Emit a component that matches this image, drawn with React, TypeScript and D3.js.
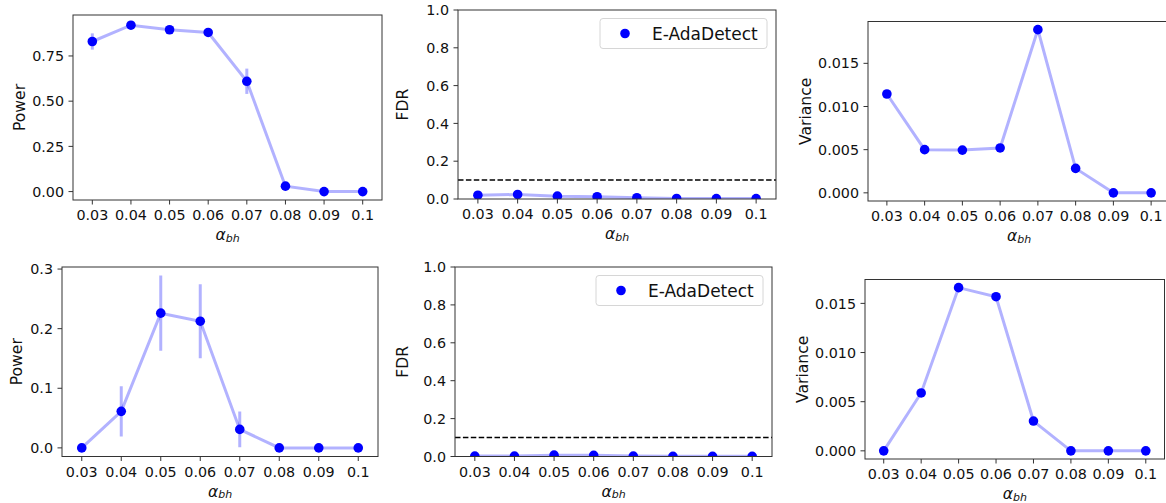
import React from "react";
import * as d3 from "d3";

// alpha_bh levels, shared by all six panels
const alphas = ["0.03", "0.04", "0.05", "0.06", "0.07", "0.08", "0.09", "0.1"];

// top row
const power1 = [0.83, 0.92, 0.895, 0.88, 0.61, 0.03, 0.0, 0.0];
const powerErr1 = [0.045, 0.01, 0.01, 0.01, 0.07, 0.01, 0.0, 0.0];
const fdr1 = [0.02, 0.024, 0.015, 0.012, 0.007, 0.003, 0.002, 0.002];
const variance1 = [0.01145, 0.005, 0.00495, 0.0052, 0.0189, 0.00283, 0.0, 0.0];

// bottom row
const power2 = [0.0, 0.0613, 0.226, 0.2125, 0.031, 0.0, 0.0, 0.0];
const powerErr2 = [0.0, 0.042, 0.063, 0.062, 0.03, 0.0, 0.0, 0.0];
const fdr2 = [0.002, 0.002, 0.007, 0.006, 0.002, 0.001, 0.001, 0.001];
const variance2 = [0.0, 0.00589, 0.0166, 0.01568, 0.00303, 0.0, 0.0, 0.0];

const powerTicks1 = [0, 0.25, 0.5, 0.75];
const powerTicks2 = [0, 0.1, 0.2, 0.3];
const fdrTicks = [0, 0.2, 0.4, 0.6, 0.8, 1.0];
const varianceTicks = [0, 0.005, 0.01, 0.015];

const fdrTarget = 0.1;
const legendLabel = "E-AdaDetect";

const FONT = "DejaVu Sans, sans-serif";
const TICK_SIZE = 14.3;
const LABEL_SIZE = 15.6;

type PanelProps = {
  id: string;
  box: { left: number; right: number; top: number; bottom: number };
  values: number[];
  errors?: number[];
  yTicks: number[];
  fmt: string;
  fixedDomain?: [number, number];
  ylabel: string;
  ylabelX: number;
  legend?: boolean;
  hline?: number;
};

// matplotlib-style autoscale: data extent (incl. error bars) with 5% margins
function autoDomain(values: number[], errors?: number[]): [number, number] {
  const lo = d3.min(values, (v, i) => v - (errors ? errors[i] : 0)) as number;
  const hi = d3.max(values, (v, i) => v + (errors ? errors[i] : 0)) as number;
  const pad = (hi - lo) * 0.05;
  return [lo - pad, hi + pad];
}

const Panel = ({ id, box, values, errors, yTicks, fmt, fixedDomain, ylabel, ylabelX, legend, hline }: PanelProps) => {
  const { left, right, top, bottom } = box;
  const x = d3.scalePoint<string>().domain(alphas).range([left, right]).padding(0.5);
  const y = d3
    .scaleLinear()
    .domain(fixedDomain ?? autoDomain(values, errors))
    .range([bottom, top]);
  const format = d3.format(fmt);

  const line = d3
    .line<number>()
    .x((_, i) => x(alphas[i]) as number)
    .y((d) => y(d));

  const cx = (left + right) / 2;
  const cy = (top + bottom) / 2;

  return (
    <g>
      <defs>
        <clipPath id={id}>
          <rect x={left} y={top} width={right - left} height={bottom - top} />
        </clipPath>
      </defs>

      <g clipPath={`url(#${id})`}>
        {hline !== undefined && (
          <line
            x1={left}
            x2={right}
            y1={y(hline)}
            y2={y(hline)}
            stroke="#000"
            strokeWidth={1.5}
            strokeDasharray="5.5,2.4"
          />
        )}
        <path d={line(values) ?? ""} fill="none" stroke="#0000ff" strokeOpacity={0.3} strokeWidth={3} />
        {errors &&
          values.map((v, i) =>
            errors[i] > 0 ? (
              <line
                key={i}
                x1={x(alphas[i])}
                x2={x(alphas[i])}
                y1={y(v - errors[i])}
                y2={y(v + errors[i])}
                stroke="#0000ff"
                strokeOpacity={0.3}
                strokeWidth={3}
              />
            ) : null
          )}
        {values.map((v, i) => (
          <circle key={i} cx={x(alphas[i])} cy={y(v)} r={4.8} fill="#0000ff" />
        ))}
      </g>

      <rect x={left} y={top} width={right - left} height={bottom - top} fill="none" stroke="#333" strokeWidth={1} />

      {/* x axis */}
      {alphas.map((a) => (
        <g key={a}>
          <line x1={x(a)} x2={x(a)} y1={bottom} y2={bottom + 4.5} stroke="#333" />
          <text x={x(a)} y={bottom + 20} textAnchor="middle" fontFamily={FONT} fontSize={TICK_SIZE} fill="#111">
            {a}
          </text>
        </g>
      ))}

      {/* y axis */}
      {yTicks.map((t) => (
        <g key={t}>
          <line x1={left - 4.5} x2={left} y1={y(t)} y2={y(t)} stroke="#333" />
          <text
            x={left - 9}
            y={y(t)}
            dy="0.36em"
            textAnchor="end"
            fontFamily={FONT}
            fontSize={TICK_SIZE}
            fill="#111"
          >
            {format(t)}
          </text>
        </g>
      ))}

      <text
        transform={`translate(${ylabelX},${cy}) rotate(-90)`}
        textAnchor="middle"
        fontFamily={FONT}
        fontSize={LABEL_SIZE}
        fill="#111"
      >
        {ylabel}
      </text>

      <text x={cx} y={bottom + 40} textAnchor="middle" fontFamily={FONT} fontSize={LABEL_SIZE} fill="#111">
        <tspan fontStyle="italic">α</tspan>
        <tspan fontStyle="italic" fontSize={11} dy={1.7}>
          bh
        </tspan>
      </text>

      {legend && (
        <g transform={`translate(${right - 176},${top + 8.5})`}>
          <rect x={0} y={0} width={167} height={30} rx={3} fill="#fff" fillOpacity={0.8} stroke="#d6d6d6" />
          <circle cx={25} cy={15} r={4.8} fill="#0000ff" />
          <text x={52} y={15} dy="0.36em" fontFamily={FONT} fontSize={17} fill="#111">
            {legendLabel}
          </text>
        </g>
      )}
    </g>
  );
};

export default function App() {
  return (
    <svg
      width={1166}
      height={503}
      style={{ position: "absolute", left: 0, top: 0, background: "#fff" }}
    >
      <Panel
        id="c1"
        box={{ left: 73, right: 382, top: 15, bottom: 200 }}
        values={power1}
        errors={powerErr1}
        yTicks={powerTicks1}
        fmt=".2f"
        ylabel="Power"
        ylabelX={25}
      />
      <Panel
        id="c2"
        box={{ left: 458, right: 776, top: 10, bottom: 199 }}
        values={fdr1}
        yTicks={fdrTicks}
        fmt=".1f"
        fixedDomain={[0, 1]}
        ylabel="FDR"
        ylabelX={408}
        legend
        hline={fdrTarget}
      />
      <Panel
        id="c3"
        box={{ left: 868, right: 1170, top: 21.5, bottom: 201 }}
        values={variance1}
        yTicks={varianceTicks}
        fmt=".3f"
        ylabel="Variance"
        ylabelX={811}
      />
      <Panel
        id="c4"
        box={{ left: 62, right: 378, top: 267, bottom: 456.5 }}
        values={power2}
        errors={powerErr2}
        yTicks={powerTicks2}
        fmt=".1f"
        ylabel="Power"
        ylabelX={21.7}
      />
      <Panel
        id="c5"
        box={{ left: 455, right: 772, top: 267, bottom: 456.5 }}
        values={fdr2}
        yTicks={fdrTicks}
        fmt=".1f"
        fixedDomain={[0, 1]}
        ylabel="FDR"
        ylabelX={408}
        legend
        hline={fdrTarget}
      />
      <Panel
        id="c6"
        box={{ left: 865, right: 1164.5, top: 279.5, bottom: 459 }}
        values={variance2}
        yTicks={varianceTicks}
        fmt=".3f"
        ylabel="Variance"
        ylabelX={808}
      />
    </svg>
  );
}
